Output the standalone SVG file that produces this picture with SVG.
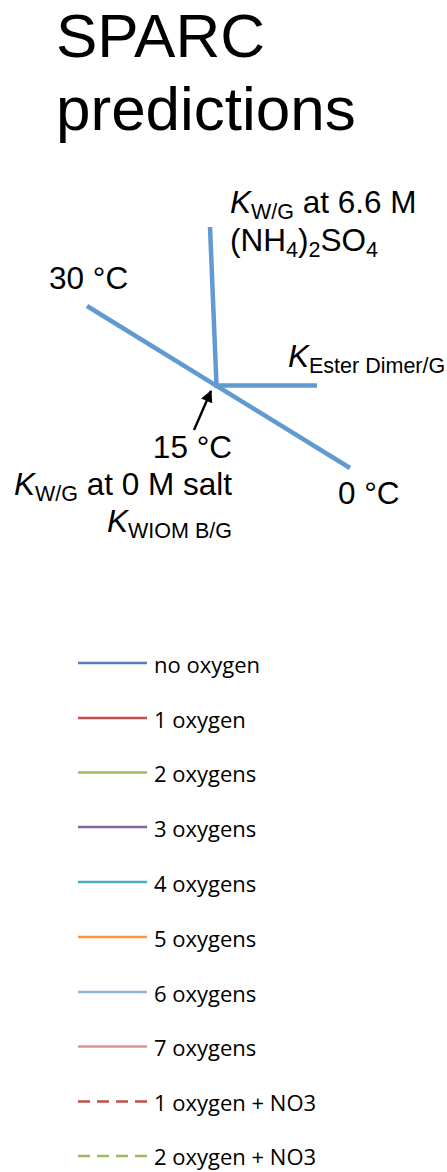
<svg xmlns="http://www.w3.org/2000/svg" width="447" height="1172" viewBox="0 0 447 1172">
  <style>
    .title { font-family: "Liberation Sans", Arial, sans-serif; font-size: 62px; fill: #000; }
    .lbl { font-family: "Liberation Sans", Arial, sans-serif; font-size: 31.5px; fill: #000; }
    .sub { font-size: 21.5px; font-style: normal; }
    .it { font-style: italic; }
    .axis { stroke: #6199d1; stroke-width: 4.5; fill: none; stroke-linecap: butt; }
    .leg { font-family: "Open Sans", "Noto Sans", sans-serif; font-size: 22px; fill: #000; }
    .key { stroke-width: 2.6; fill: none; }
    .dash { stroke-dasharray: 12 7; }
  </style>
  <defs>
    <marker id="arrowHead" viewBox="0 0 10 10" refX="9" refY="5" markerWidth="5.5" markerHeight="5" orient="auto" markerUnits="strokeWidth">
      <path d="M0,0 L10,5 L0,10 z" fill="#000"/>
    </marker>
  </defs>

  <rect width="447" height="1172" fill="#fff"/>

  <!-- heading -->
  <g id="title">
    <text class="title" x="56" y="57">SPARC</text>
    <text class="title" x="56" y="130">predictions</text>
  </g>

  <!-- axes of the sketch -->
  <g id="connectors">
    <line class="axis" x1="210" y1="227" x2="216.5" y2="385"/>
    <line class="axis" x1="214" y1="385.5" x2="317" y2="385.5"/>
    <line class="axis" x1="87" y1="306" x2="350" y2="468"/>
    <line x1="194" y1="430" x2="211" y2="391" stroke="#000" stroke-width="2.4" marker-end="url(#arrowHead)"/>
  </g>

  <g id="salt-label">
    <text class="lbl" x="230" y="213"><tspan class="it">K</tspan><tspan class="sub" dy="6">W/G</tspan><tspan dy="-6"> at 6.6 M</tspan></text>
    <text class="lbl" x="230" y="251">(NH<tspan class="sub" dy="6">4</tspan><tspan dy="-6">)</tspan><tspan class="sub" dy="6">2</tspan><tspan dy="-6">SO</tspan><tspan class="sub" dy="6">4</tspan></text>
  </g>

  <g id="hot-label">
    <text class="lbl" x="49" y="289">30 °C</text>
  </g>

  <g id="ester-label">
    <text class="lbl" x="288" y="367"><tspan class="it">K</tspan><tspan class="sub" dy="6">Ester Dimer/G</tspan></text>
  </g>

  <g id="centre-label">
    <text class="lbl" x="232" y="458" text-anchor="end">15 °C</text>
    <text class="lbl" x="232" y="495" text-anchor="end"><tspan class="it">K</tspan><tspan class="sub" dy="6">W/G</tspan><tspan dy="-6"> at 0 M salt</tspan></text>
    <text class="lbl" x="232" y="532" text-anchor="end"><tspan class="it">K</tspan><tspan class="sub" dy="6">WIOM B/G</tspan></text>
  </g>

  <g id="cold-label">
    <text class="lbl" x="338" y="504">0 °C</text>
  </g>

  <!-- key -->
  <g id="legend">
    <g id="legend-0"><line class="key" x1="78" y1="663" x2="147" y2="663" stroke="#4f81bd"/><text class="leg" x="154" y="672.5">no oxygen</text></g>
    <g id="legend-1"><line class="key" x1="78" y1="718" x2="147" y2="718" stroke="#c0504d"/><text class="leg" x="154" y="727.5">1 oxygen</text></g>
    <g id="legend-2"><line class="key" x1="78" y1="772.5" x2="147" y2="772.5" stroke="#9bbb59"/><text class="leg" x="154" y="782">2 oxygens</text></g>
    <g id="legend-3"><line class="key" x1="78" y1="827" x2="147" y2="827" stroke="#8064a2"/><text class="leg" x="154" y="836.5">3 oxygens</text></g>
    <g id="legend-4"><line class="key" x1="78" y1="882" x2="147" y2="882" stroke="#4bacc6"/><text class="leg" x="154" y="891.5">4 oxygens</text></g>
    <g id="legend-5"><line class="key" x1="78" y1="937" x2="147" y2="937" stroke="#f79646"/><text class="leg" x="154" y="946.5">5 oxygens</text></g>
    <g id="legend-6"><line class="key" x1="78" y1="992" x2="147" y2="992" stroke="#95b3d7"/><text class="leg" x="154" y="1001.5">6 oxygens</text></g>
    <g id="legend-7"><line class="key" x1="78" y1="1046.5" x2="147" y2="1046.5" stroke="#d99694"/><text class="leg" x="154" y="1056">7 oxygens</text></g>
    <g id="legend-8"><line class="key dash" x1="78" y1="1101.5" x2="147" y2="1101.5" stroke="#c0504d"/><text class="leg" x="154" y="1111">1 oxygen + NO3</text></g>
    <g id="legend-9"><line class="key dash" x1="78" y1="1156" x2="147" y2="1156" stroke="#9bbb59"/><text class="leg" x="154" y="1165">2 oxygen + NO3</text></g>
  </g>
</svg>
